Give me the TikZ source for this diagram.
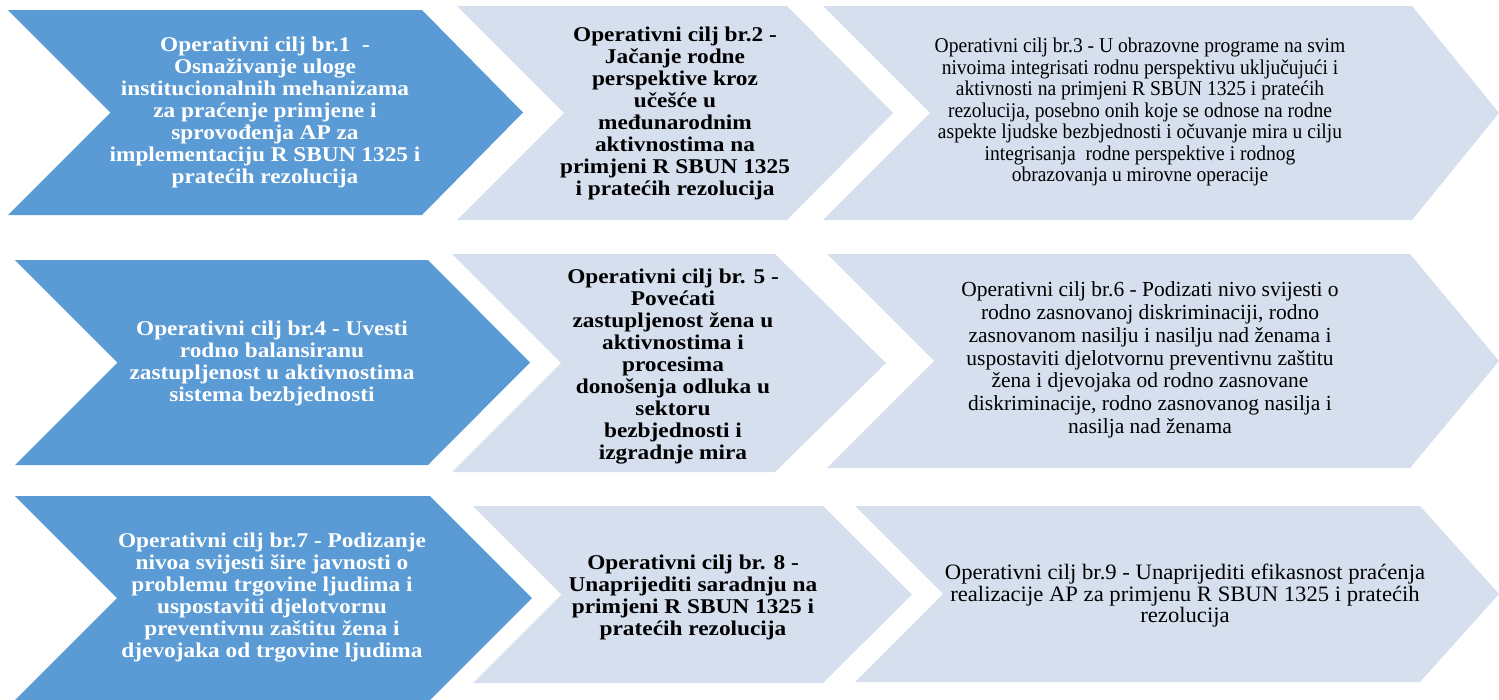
\documentclass[tikz,border=0pt]{standalone}
\usepackage{fontspec}
\setmainfont{Liberation Serif}
\newfontfamily\boldf[FakeStretch=1.11]{Liberation Serif}
\newfontfamily\narrowa[FakeStretch=0.93]{Liberation Serif}
\newfontfamily\narrowb[FakeStretch=1.0]{Liberation Serif}
\newfontfamily\narrowc[FakeStretch=1.03]{Liberation Serif}
\definecolor{dblue}{RGB}{91,155,213}
\definecolor{lblue}{RGB}{213,223,238}
\newcommand\mychev[6]{\fill[#1] (#2,#3) -- (#4,#3) -- (#5,{(#3+#6)/2}) -- (#4,#6) -- (#2,#6) -- ({#2+(#6-#3)/2},{(#3+#6)/2}) -- cycle;}
\tikzset{
  bwhite/.style={align=center, text=white, inner sep=0pt, font=\boldf\bfseries\fontsize{21}{22}\selectfont},
  bblack/.style={align=center, text=black, inner sep=0pt, font=\boldf\bfseries\fontsize{21}{22}\selectfont},
  rblack/.style={align=center, text=black, inner sep=0pt},
  dark/.style={fill=dblue},
  light/.style={fill=lblue}
}
\begin{document}
\begin{tikzpicture}[x=1pt,y=-1pt]
\useasboundingbox (0,0) rectangle (1499,699);
% row 1
\mychev{dark}{8}{10}{422}{523}{215}
\mychev{light}{457}{6}{787}{893}{220}
\mychev{light}{823}{6}{1412}{1499}{220}
% row 2
\mychev{dark}{15}{260}{428}{530}{465}
\mychev{light}{452}{254}{775}{886}{472}
\mychev{light}{827}{254}{1410}{1499}{468}
% row 3
\mychev{dark}{15}{496}{430}{532}{700}
\mychev{light}{473}{506}{823}{912}{683}
\mychev{light}{855}{506}{1420}{1499}{682}

\node[bwhite] (c1) at (265,112) {Operativni cilj br.1 \ -\\Osnaživanje uloge\\institucionalnih mehanizama\\za praćenje primjene i\\sprovođenja AP za\\implementaciju R SBUN 1325 i\\pratećih rezolucija};
\node[bblack] (c2) at (675,113) {Operativni cilj br.2 -\\Jačanje rodne\\perspektive kroz\\učešće u\\međunarodnim\\aktivnostima na\\primjeni R SBUN 1325\\i pratećih rezolucija};
\node[rblack, font=\narrowa\fontsize{21}{21.5}\selectfont] (c3) at (1140,112) {Operativni cilj br.3 - U obrazovne programe na svim\\nivoima integrisati rodnu perspektivu uključujući i\\aktivnosti na primjeni R SBUN 1325 i pratećih\\rezolucija, posebno onih koje se odnose na rodne\\aspekte ljudske bezbjednosti i očuvanje mira u cilju\\integrisanja \ rodne perspektive i rodnog\\obrazovanja u mirovne operacije};

\node[bwhite] (c4) at (272,363) {Operativni cilj br.4 - Uvesti\\rodno balansiranu\\zastupljenost u aktivnostima\\sistema bezbjednosti};
\node[bblack] (c5) at (673,367) {Operativni cilj br. 5 -\\Povećati\\zastupljenost žena u\\aktivnostima i\\procesima\\donošenja odluka u\\sektoru\\bezbjednosti i\\izgradnje mira};
\node[rblack, font=\narrowb\fontsize{21.5}{22.8}\selectfont] (c6) at (1150,360) {Operativni cilj br.6 - Podizati nivo svijesti o\\rodno zasnovanoj diskriminaciji, rodno\\zasnovanom nasilju i nasilju nad ženama i\\uspostaviti djelotvornu preventivnu zaštitu\\žena i djevojaka od rodno zasnovane\\diskriminacije, rodno zasnovanog nasilja i\\nasilja nad ženama};

\node[bwhite] (c7) at (272,598) {Operativni cilj br.7 - Podizanje\\nivoa svijesti šire javnosti o\\problemu trgovine ljudima i\\uspostaviti djelotvornu\\preventivnu zaštitu žena i\\djevojaka od trgovine ljudima};
\node[bblack] (c8) at (693,597) {Operativni cilj br. 8 -\\Unaprijediti saradnju na\\primjeni R SBUN 1325 i\\pratećih rezolucija};
\node[rblack, font=\narrowc\fontsize{22}{21.5}\selectfont] (c9) at (1185,596) {Operativni cilj br.9 - Unaprijediti efikasnost praćenja\\realizacije AP za primjenu R SBUN 1325 i pratećih\\rezolucija};
\end{tikzpicture}
\end{document}
